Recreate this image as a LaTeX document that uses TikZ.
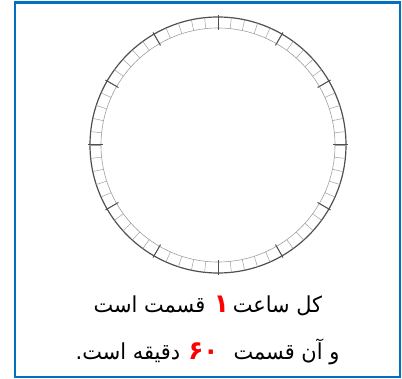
\documentclass[tikz,border=0pt]{standalone}
\usepackage{fontspec}
\newfontfamily\arabicfont[Script=Arabic]{DejaVu Sans}
\TeXXeTstate=1
\definecolor{frameblue}{RGB}{0,112,192}
\definecolor{ringdark}{RGB}{80,80,80}
\definecolor{ringlight}{RGB}{160,160,160}
\begin{document}
\begin{tikzpicture}[x=1pt,y=1pt,
  minor/.style={ringlight,line width=0.5pt},
  major/.style={ringdark,line width=1pt},
  txt/.style={font=\arabicfont\fontsize{22}{26}\selectfont,inner sep=0pt,anchor=base,xscale=0.95,transform shape},
  num/.style={txt,text=red,font=\arabicfont\bfseries\fontsize{26}{30}\selectfont}]
\useasboundingbox (0,0) rectangle (402,-379);
\fill[white] (0,0) rectangle (402,-379);
\draw[frameblue,line width=2.2pt] (15,-2.5) rectangle (400,-377);
\coordinate (c) at (218,-145);
\draw[ringdark,line width=1.2pt] (c) circle[radius=128];
\draw[ringlight,line width=0.6pt] (c) circle[radius=117];
\foreach \a in {0,6,...,354} {
  \draw[minor] ([shift={(\a:117)}]c) -- ([shift={(\a:128)}]c);
}
\foreach \a in {0,30,...,330} {
  \draw[major] ([shift={(\a:115)}]c) -- ([shift={(\a:130)}]c);
}
\node[txt] (a1) at (277.5,-313) {\beginR کل ساعت\endR};
\node[num] (a2) at (221.5,-313) {\beginR ۱\endR};
\node[txt] (a3) at (149.5,-313) {\beginR قسمت است\endR};
\node[txt] (b1) at (286.5,-360) {\beginR و آن قسمت\endR};
\node[num] (b2) at (203.5,-360) {\beginR ۶۰\endR};
\node[txt] (b3) at (128,-360) {\beginR دقیقه است.\endR};
\end{tikzpicture}
\end{document}
